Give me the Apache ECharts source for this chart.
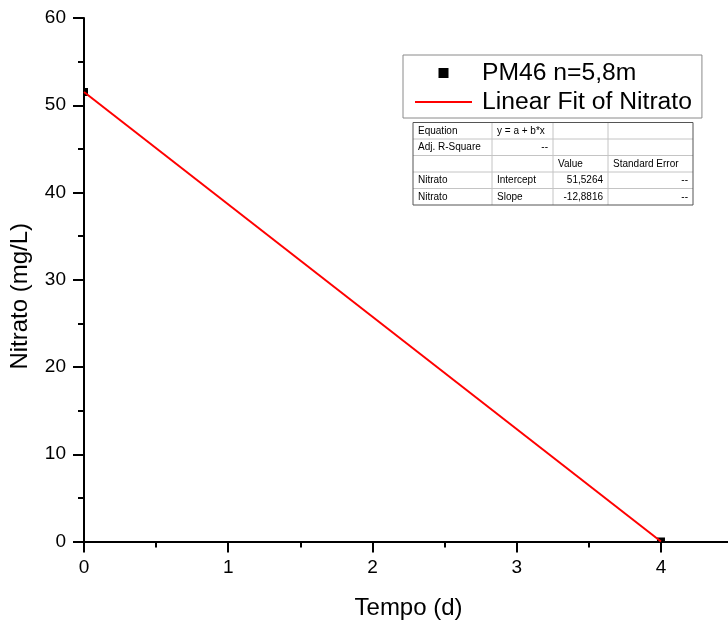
<!DOCTYPE html>
<html>
<head>
<meta charset="utf-8">
<script src="https://cdn.jsdelivr.net/npm/echarts@6/dist/echarts.min.js"></script>
<style>
html,body{margin:0;padding:0;background:#fff;}
#chart{width:728px;height:623px;}
</style>
</head>
<body>
<div id="chart"></div>
<script>
// ---- data ----
const timeDays = [0, 4];
const nitrato = [51.5264, 0.0];
const fitX = [0, 4];
const fitY = [51.5264, 0.0];
const seriesNames = ['PM46 n=5,8m', 'Linear Fit of Nitrato'];
const xAxisTitle = 'Tempo (d)';
const yAxisTitle = 'Nitrato (mg/L)';
const tableCells = [
  ['Equation', 'y = a + b*x', '', ''],
  ['Adj. R-Square', '--', '', ''],
  ['', '', 'Value', 'Standard Error'],
  ['Nitrato', 'Intercept', '51,5264', '--'],
  ['Nitrato', 'Slope', '-12,8816', '--']
];
const tableAlign = [
  ['left', 'left', 'left', 'left'],
  ['left', 'right', 'left', 'left'],
  ['left', 'left', 'left', 'left'],
  ['left', 'left', 'right', 'right'],
  ['left', 'left', 'right', 'right']
];

const FONT = "'Liberation Sans', Arial, sans-serif";
const chart = echarts.init(document.getElementById('chart'), null, {renderer: 'canvas'});

// table layout
const colX = [413, 492, 553, 608, 693];
const rowTop = 122.5, rowH = 16.5;
const tableChildren = [];
const nRows = tableCells.length;
for (let r = 1; r < nRows; r++) {
  tableChildren.push({type: 'line', shape: {x1: colX[0], y1: rowTop + r * rowH, x2: colX[4], y2: rowTop + r * rowH},
    style: {stroke: '#c4c4c4', lineWidth: 1}});
}
for (let c = 1; c < 4; c++) {
  tableChildren.push({type: 'line', shape: {x1: colX[c], y1: rowTop, x2: colX[c], y2: rowTop + nRows * rowH},
    style: {stroke: '#c4c4c4', lineWidth: 1}});
}
tableChildren.push({type: 'rect', shape: {x: colX[0], y: rowTop, width: colX[4] - colX[0], height: nRows * rowH},
  style: {fill: 'none', stroke: '#555', lineWidth: 1}});
for (let r = 0; r < nRows; r++) {
  for (let c = 0; c < 4; c++) {
    const t = tableCells[r][c];
    if (!t) continue;
    const al = tableAlign[r][c];
    tableChildren.push({type: 'text',
      x: al === 'left' ? colX[c] + 5 : colX[c + 1] - 5,
      y: rowTop + r * rowH + rowH / 2,
      style: {text: t, fill: '#000', font: '10px ' + FONT, textAlign: al, textVerticalAlign: 'middle'}});
  }
}

const pts = timeDays.map((t, i) => [t, nitrato[i]]);
const fitPts = fitX.map((t, i) => [t, fitY[i]]);

const option = {
  animation: false,
  backgroundColor: '#fff',
  textStyle: {fontFamily: FONT},
  grid: {left: 84, top: 18, width: 649.1, bottom: 81.5, containLabel: false, outerBoundsMode: 'none'},
  legend: {
    left: 403, top: 55, orient: 'vertical',
    padding: [5, 10, 3, 12], itemGap: 3,
    itemWidth: 57, itemHeight: 10,
    symbolKeepAspect: true,
    borderColor: '#8a8a8a', borderWidth: 1,
    textStyle: {fontSize: 24.7, lineHeight: 26, color: '#000', fontFamily: FONT, padding: [0, 0, 0, 5]},
    data: [
      {name: seriesNames[0], icon: 'path://M0,0L10,0L10,10L0,10Z'},
      {name: seriesNames[1], icon: 'path://M0,0L57,0L57,2L0,2Z'}
    ]
  },
  xAxis: [{
    type: 'value', min: 0, max: 4.5, interval: 1, position: 'bottom',
    name: xAxisTitle, nameLocation: 'middle', nameGap: 55,
    nameTextStyle: {fontSize: 24, color: '#000', fontFamily: FONT},
    axisLine: {show: true, onZero: false, lineStyle: {color: '#000', width: 2}},
    axisTick: {show: true, inside: false, length: 11, lineStyle: {color: '#000', width: 2}},
    axisLabel: {fontSize: 19, color: '#000', margin: 17, fontFamily: FONT,
      formatter: v => (Math.abs(v - Math.round(v)) < 1e-9 && v <= 4 ? String(Math.round(v)) : '')},
    splitLine: {show: false}
  }, {
    type: 'value', min: 0, max: 4.5, interval: 0.5, position: 'bottom',
    axisLine: {show: false},
    axisTick: {show: true, inside: false, length: 6, lineStyle: {color: '#000', width: 2}},
    axisLabel: {show: false},
    splitLine: {show: false}
  }],
  yAxis: {
    type: 'value', min: 0, max: 60, interval: 10,
    name: yAxisTitle, nameLocation: 'middle', nameGap: 52, nameRotate: 90,
    nameTextStyle: {fontSize: 24, color: '#000', fontFamily: FONT, padding: [0, 33, 0, 0]},
    axisLine: {show: true, onZero: false, lineStyle: {color: '#000', width: 2}},
    axisTick: {show: true, inside: false, length: 11, lineStyle: {color: '#000', width: 2}},
    minorTick: {show: true, splitNumber: 2, length: 6, lineStyle: {color: '#000', width: 2}},
    axisLabel: {fontSize: 19, color: '#000', margin: 18, fontFamily: FONT},
    splitLine: {show: false},
    minorSplitLine: {show: false}
  },
  series: [{
    name: seriesNames[0], type: 'custom', clip: true, z: 3,
    xAxisIndex: 0,
    itemStyle: {color: '#000'},
    encode: {x: 0, y: 1},
    data: pts,
    renderItem: function (params, api) {
      const p = api.coord([api.value(0), api.value(1)]);
      return {type: 'rect', shape: {x: p[0] - 4, y: p[1] - 4, width: 8, height: 8}, style: {fill: '#000'}};
    }
  }, {
    name: seriesNames[1], type: 'line', xAxisIndex: 0, z: 4,
    symbol: 'none', showSymbol: false,
    lineStyle: {color: '#ff0000', width: 2},
    itemStyle: {color: '#ff0000'},
    data: fitPts
  }],
  graphic: [{type: 'group', children: tableChildren}]
};
chart.setOption(option);
</script>
</body>
</html>
